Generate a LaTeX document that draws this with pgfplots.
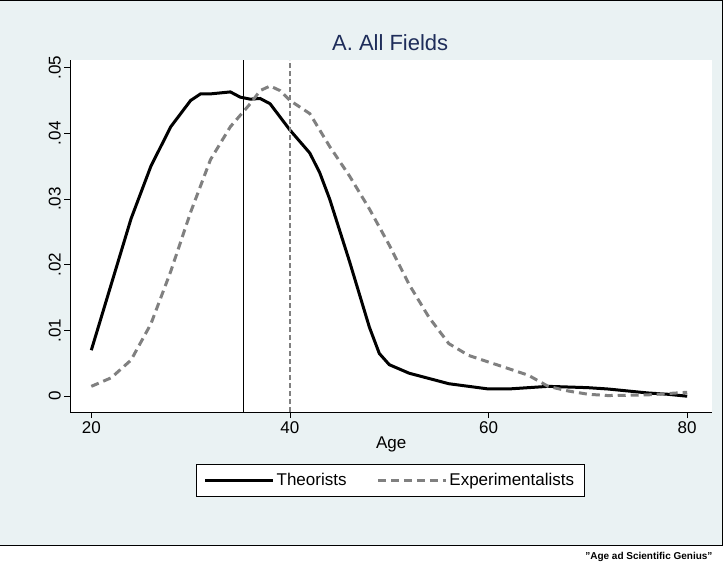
\documentclass[border=0pt]{standalone}
\usepackage{pgfplots}
\pgfplotsset{compat=1.18}
\usepackage{fontspec}
\setmainfont{Liberation Sans}
\definecolor{bgb}{HTML}{EAF2F3}
\definecolor{navy}{HTML}{1E2D5A}
\definecolor{dg}{HTML}{808080}
\begin{document}
\begin{tikzpicture}[x=1pt,y=1pt]
\path (0,0) rectangle (725,-573);
\fill[bgb] (0,0) rectangle (722,-545);
\draw[black,line width=0.8pt] (0,0) -- (722,0) -- (722,-545) -- (0,-545);
\node[font=\fontsize{22}{24}\selectfont,text=navy] at (390,-42) {A. All Fields};
\node[font=\bfseries\fontsize{10}{12}\selectfont,anchor=east] at (716,-557) {"Age ad Scientific Genius"};
\begin{axis}[at={(70pt,-412pt)},anchor=south west,scale only axis,
 width=642pt,height=352pt,
 xmin=17.89,xmax=82.5,ymin=-0.00243,ymax=0.0511,
 axis background/.style={fill=white},
 axis x line*=bottom, axis y line*=left,
 axis line style={black,line width=0.8pt,-},
 xtick={20,40,60,80}, ytick={0,0.01,0.02,0.03,0.04,0.05},
 yticklabels={0,.01,.02,.03,.04,.05}, scaled y ticks=false,
 tick align=outside, major tick length=6pt,
 tick style={black,line width=0.8pt},
 ticklabel style={font=\fontsize{17}{19}\selectfont},
 yticklabel style={rotate=90,anchor=south},
 /pgf/number format/assume math mode=true,
 xlabel={Age}, xlabel style={font=\fontsize{17}{19}\selectfont,yshift=4pt},
 legend columns=2,
 legend style={at={(0.498,-0.193)},anchor=center,draw=black,fill=white,
   font=\fontsize{17}{19}\selectfont,/tikz/every even column/.append style={column sep=28pt},
   inner xsep=8pt,inner ysep=7pt},
 legend image code/.code={\draw[#1] (0pt,0pt) -- (68pt,0pt);},
]
\addplot[black,line width=3pt] coordinates {(20,.007)(22,.017)(24,.027)(26,.035)(28,.041)(29,.043)(30,.045)(31,.046)(32,.046)(34,.0463)(35,.0455)(36,.0452)(37,.0453)(38,.0445)(40,.0405)(42,.037)(43,.034)(44,.030)(46,.0205)(48,.0105)(49,.0065)(50,.0048)(52,.0035)(54,.0027)(56,.0019)(58,.0015)(60,.0011)(62,.0011)(64,.0013)(66,.0015)(68,.0014)(70,.0013)(72,.0011)(74,.0008)(76,.0005)(78,.0003)(80,0)};
\addlegendentry{Theorists}
\addplot[dg,line width=3pt,dash pattern=on 8pt off 5pt] coordinates {(20,.0015)(22,.0028)(24,.0055)(26,.011)(28,.019)(30,.028)(32,.036)(34,.041)(36,.0445)(37,.0465)(38,.0472)(39,.0465)(40,.045)(42,.043)(44,.038)(46,.0335)(48,.0285)(50,.023)(52,.017)(54,.012)(56,.008)(58,.0062)(60,.0052)(62,.0042)(64,.0032)(66,.0015)(68,.0008)(70,.0003)(72,.0001)(76,.0002)(80,.0006)};
\addlegendentry{Experimentalists}
\draw[black,line width=1.4pt] (axis cs:35.3,-0.00243) -- (axis cs:35.3,0.0511);
\draw[dg,line width=1.4pt,dash pattern=on 5pt off 3pt] (axis cs:40,-0.00243) -- (axis cs:40,0.0511);
\end{axis}
\end{tikzpicture}
\end{document}
